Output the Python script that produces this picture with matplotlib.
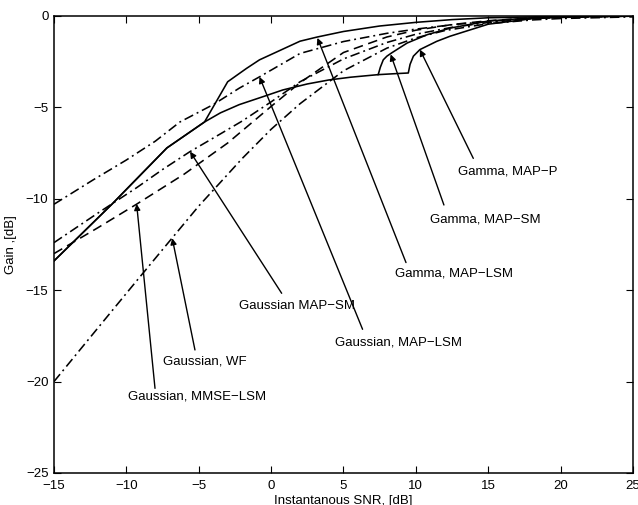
import matplotlib
matplotlib.use("Agg")
import matplotlib.pyplot as plt

plt.rcParams['font.family'] = ['Liberation Sans', 'DejaVu Sans']
plt.rcParams['font.size'] = 9.5

# Gaussian speech model curves
g_maplsm_x = [-15, -12.3, -10, -8, -6.3, -4, -2.2, -0.8, 2, 5, 8, 10, 12.5, 15, 18, 20, 25]
g_maplsm_y = [-10.3, -8.97, -7.88, -6.85, -5.8, -4.85, -3.95, -3.33, -2.05, -1.4, -0.95, -0.72, -0.48, -0.3, -0.13, -0.07, -0.01]

g_mapsm_x = [-15, -12, -9.3, -7.5, -5.6, -3.5, -2, 0, 2, 5, 8, 10, 12.5, 15, 18, 20, 25]
g_mapsm_y = [-12.4, -10.8, -9.4, -8.4, -7.42, -6.45, -5.75, -4.7, -3.6, -2.35, -1.45, -1.0, -0.62, -0.36, -0.15, -0.08, -0.01]

g_mmse_x = [-15, -12, -9.3, -6, -3, 0, 2, 5, 8, 10, 12.5, 15, 18, 20, 25]
g_mmse_y = [-13.0, -11.6, -10.3, -8.65, -6.95, -4.95, -3.65, -2.0, -1.15, -0.78, -0.47, -0.26, -0.1, -0.05, -0.01]

g_wf_x = [-15, -12, -9.3, -6.85, -5, -2, 0, 2, 5, 8, 10, 12, 15, 18, 20, 25]
g_wf_y = [-20.0, -17.1, -14.5, -12.16, -10.4, -7.8, -6.2, -4.8, -3.0, -1.76, -1.2, -0.8, -0.42, -0.22, -0.14, -0.05]

# Gamma speech model curves
low_x = [-15, -11, -7.2, -4.6]
low_y = [-13.4, -10.3, -7.22, -5.8]

top_x = [-3.0, -2.2, -1.7, -0.8, 0.3, 2, 3.2, 5, 7.5, 10, 12.5, 15, 20, 25]
top_y = [-3.6, -3.15, -2.87, -2.4, -2.0, -1.38, -1.15, -0.85, -0.55, -0.35, -0.2, -0.1, -0.02, 0.0]

mid_x = [-3.5, -2.2, -0.5, 0.8, 2.5, 4, 5.5, 7.4]
mid_y = [-5.3, -4.85, -4.4, -4.05, -3.72, -3.5, -3.35, -3.21]

sm_rise_x = [7.55, 7.75, 8.0, 8.33, 9.4, 10.8, 12.4, 15, 18, 20, 25]
sm_rise_y = [-2.8, -2.4, -2.2, -2.02, -1.48, -1.02, -0.66, -0.28, -0.1, -0.05, 0.0]

p_flat_x = [8.5, 9.48]
p_flat_y = [-3.16, -3.12]
p_rise_x = [9.6, 9.83, 10.28, 11.44, 12.36, 15, 18, 20, 22, 25]
p_rise_y = [-2.65, -2.2, -1.84, -1.39, -1.11, -0.45, -0.15, -0.07, -0.03, 0.0]

# labels: text, text position, arrow tail, arrow tip
labels = ['Gamma, MAP\u2212P', 'Gamma, MAP\u2212SM', 'Gamma, MAP\u2212LSM',
          'Gaussian MAP\u2212SM', 'Gaussian, MAP\u2212LSM', 'Gaussian, WF',
          'Gaussian, MMSE\u2212LSM']
label_pos = [(12.91, -8.53), (10.98, -11.16), (8.56, -14.08), (-2.2, -15.86),
             (4.41, -17.87), (-7.49, -18.91), (-9.87, -20.79)]
arrow_tail = [(13.97, -7.79), (11.94, -10.34), (9.32, -13.49), (0.73, -15.17),
              (6.32, -17.14), (-5.26, -18.27), (-8.02, -20.37)]
arrow_tip = [(10.28, -1.84), (8.26, -2.1), (3.2, -1.2), (-5.6, -7.42),
             (-0.8, -3.33), (-6.83, -12.16), (-9.29, -10.28)]

dashdot = (0, (6, 2.5, 1.2, 2.5))
dashed = (0, (6, 3.5))

fig = plt.figure(figsize=(6.38, 5.05), dpi=100)
ax = fig.add_axes([0.0846, 0.0634, 0.9075, 0.905])

lw = 1.15
ax.plot(g_maplsm_x, g_maplsm_y, color='k', lw=lw, linestyle=dashdot)
ax.plot(g_mapsm_x, g_mapsm_y, color='k', lw=lw, linestyle=dashdot)
ax.plot(g_mmse_x, g_mmse_y, color='k', lw=lw, linestyle=dashed)
ax.plot(g_wf_x, g_wf_y, color='k', lw=lw, linestyle=dashdot)

ax.plot(low_x + top_x, low_y + top_y, color='k', lw=lw)
ax.plot(low_x + mid_x + sm_rise_x, low_y + mid_y + sm_rise_y, color='k', lw=lw)
ax.plot(mid_x[-1:] + p_flat_x + p_rise_x, mid_y[-1:] + p_flat_y + p_rise_y, color='k', lw=lw)

for txt, pos, tail, tip in zip(labels, label_pos, arrow_tail, arrow_tip):
    ax.text(pos[0], pos[1], txt, ha='left', va='center')
    ax.annotate('', xy=tip, xytext=tail,
                arrowprops=dict(arrowstyle='-|>', lw=1.0, color='k',
                                mutation_scale=9, shrinkA=0, shrinkB=0))

ax.set_xlim(-15, 25)
ax.set_ylim(-25, 0)
ax.set_xticks(range(-15, 26, 5))
ax.set_yticks(range(-25, 1, 5))
ax.tick_params(direction='in', top=True, right=True, length=5, width=0.8)
ax.tick_params(axis='x', pad=5)
ax.tick_params(axis='y', pad=4)
for s in ax.spines.values():
    s.set_linewidth(1.1)

ax.set_xlabel('Instantanous SNR, [dB]', labelpad=2)
ax.set_ylabel('Gain ,[dB]', labelpad=6)

fig.savefig('out.png', dpi=100)
